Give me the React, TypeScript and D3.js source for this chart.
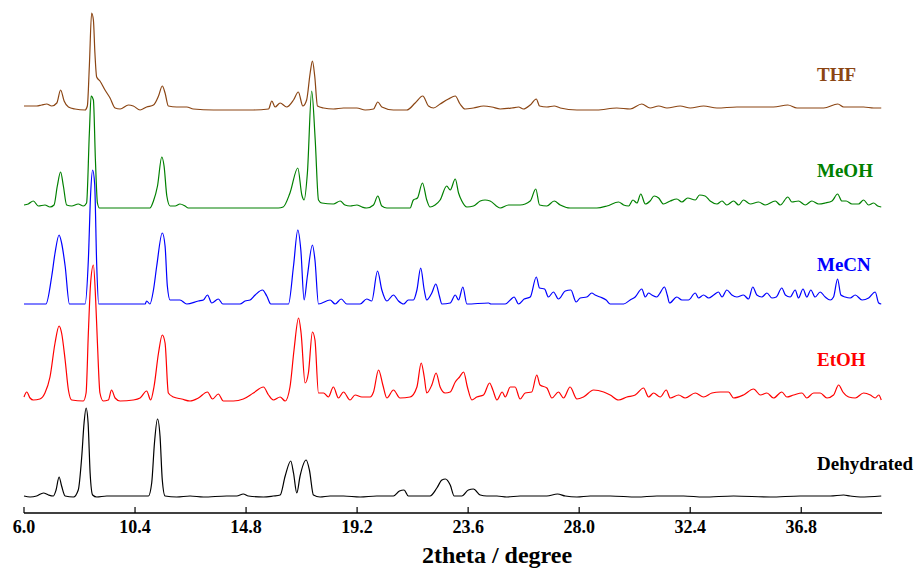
import React from "react";
import * as d3 from "d3";

type Pt = [number, number];

// 2theta (degree) vs intensity (a.u.) for each sample
const thf: Pt[] = [[6.00,3],[6.24,3],[6.50,3],[6.70,4],[6.90,5],[7.10,3],[7.30,6],[7.45,19],[7.59,8],[7.76,2],[8.02,0],[8.42,-1],[8.51,3],[8.59,43],[8.68,96],[8.75,89],[8.81,56],[8.88,32],[9.01,28],[9.21,19],[9.41,11],[9.61,1],[9.81,0],[10.14,4],[10.33,3],[10.60,-1],[10.86,2],[11.13,4],[11.33,13],[11.48,23],[11.59,16],[11.72,3],[12.05,2],[12.45,2],[12.71,0],[13.51,-1],[15.09,-1],[15.69,0],[15.82,8],[15.95,2],[16.15,6],[16.41,2],[16.68,9],[16.87,17],[17.05,3],[17.20,9],[17.34,36],[17.43,48],[17.52,33],[17.63,3],[17.87,1],[18.26,0],[18.66,1],[19.19,1],[19.52,-1],[19.85,0],[20.02,7],[20.18,2],[20.64,-1],[21.17,-1],[21.50,6],[21.80,13],[22.03,3],[22.23,1],[22.49,5],[22.82,10],[23.09,13],[23.28,5],[23.48,0],[23.81,1],[24.21,3],[24.54,2],[24.87,0],[25.33,1],[25.60,2],[25.79,0],[26.06,4],[26.30,10],[26.43,3],[26.72,2],[27.01,3],[27.25,1],[27.91,-1],[28.70,-1],[29.49,1],[30.02,0],[30.48,5],[30.81,1],[31.15,3],[31.48,1],[32.00,3],[32.40,1],[32.93,3],[33.46,1],[34.25,2],[34.78,2],[35.70,2],[36.27,4],[36.63,1],[37.16,1],[37.69,1],[38.25,5],[38.48,2],[39.27,2],[39.67,1],[39.97,1]];

const meoh: Pt[] = [[6.00,3],[6.17,4],[6.37,7],[6.57,2],[6.83,3],[7.03,1],[7.19,3],[7.32,22],[7.45,36],[7.56,22],[7.69,3],[7.89,2],[8.15,4],[8.35,2],[8.48,5],[8.59,75],[8.66,112],[8.75,108],[8.83,48],[8.91,5],[8.99,0],[10.99,0],[11.13,7],[11.29,22],[11.46,51],[11.55,42],[11.66,12],[11.79,2],[11.99,2],[12.18,4],[12.38,2],[12.51,0],[16.08,0],[16.27,1],[16.54,15],[16.85,40],[17.01,13],[17.10,8],[17.23,35],[17.40,117],[17.54,68],[17.67,8],[17.80,5],[18.26,4],[18.53,7],[18.72,3],[18.92,2],[19.19,3],[19.39,1],[19.58,0],[19.85,3],[20.02,12],[20.18,2],[20.38,0],[21.30,0],[21.43,8],[21.59,10],[21.79,25],[21.96,8],[22.09,1],[22.29,3],[22.49,8],[22.75,22],[22.89,18],[23.09,29],[23.22,15],[23.35,7],[23.55,1],[23.81,2],[24.08,7],[24.27,8],[24.47,7],[24.87,0],[25.20,3],[25.66,3],[26.06,7],[26.28,19],[26.43,3],[26.72,2],[27.01,7],[27.25,3],[27.64,0],[28.70,0],[29.10,2],[29.56,6],[29.76,3],[29.96,2],[30.13,8],[30.29,5],[30.44,14],[30.62,4],[30.81,7],[30.97,12],[31.15,10],[31.34,4],[31.61,7],[31.87,9],[32.07,6],[32.30,10],[32.60,8],[32.77,13],[32.99,12],[33.19,7],[33.46,4],[33.66,7],[33.85,3],[34.12,7],[34.32,3],[34.51,8],[34.78,4],[35.11,6],[35.37,3],[35.77,7],[35.97,3],[36.27,11],[36.43,6],[36.69,7],[36.96,3],[37.22,7],[37.49,4],[37.75,5],[38.02,7],[38.24,14],[38.41,7],[38.58,7],[38.81,4],[39.07,4],[39.27,8],[39.47,3],[39.67,5],[39.83,2],[39.97,1]];

const mecn: Pt[] = [[6.00,0],[6.87,0],[7.10,28],[7.23,51],[7.39,69],[7.49,61],[7.63,38],[7.80,0],[8.42,0],[8.55,44],[8.64,110],[8.72,134],[8.80,120],[8.88,40],[8.96,0],[10.80,0],[10.86,3],[10.99,0],[11.13,14],[11.26,38],[11.48,71],[11.59,58],[11.68,18],[11.79,4],[12.18,4],[12.45,0],[12.91,3],[13.11,4],[13.27,9],[13.44,1],[13.70,5],[13.88,0],[14.56,0],[14.76,3],[14.96,4],[15.16,9],[15.45,14],[15.62,8],[15.78,0],[16.48,0],[16.68,38],[16.85,74],[16.97,54],[17.10,4],[17.23,28],[17.43,59],[17.53,44],[17.67,0],[18.13,4],[18.33,0],[18.57,5],[18.79,0],[19.32,0],[19.58,5],[19.78,3],[20.01,33],[20.18,14],[20.38,3],[20.64,9],[20.84,3],[21.04,0],[21.23,4],[21.43,4],[21.57,14],[21.72,36],[21.86,14],[21.96,4],[22.16,11],[22.32,20],[22.46,8],[22.56,0],[22.89,1],[23.09,9],[23.22,4],[23.39,17],[23.55,0],[24.41,1],[24.50,0],[25.07,0],[25.27,4],[25.42,7],[25.60,0],[25.82,5],[26.06,7],[26.30,27],[26.43,16],[26.63,15],[26.78,7],[26.98,12],[27.18,5],[27.45,13],[27.67,14],[27.88,2],[28.04,6],[28.30,7],[28.50,11],[28.63,9],[28.83,7],[29.07,4],[29.23,0],[29.76,0],[30.02,4],[30.22,7],[30.48,15],[30.62,7],[30.75,11],[30.88,9],[31.08,7],[31.18,10],[31.38,17],[31.49,9],[31.58,1],[31.87,7],[32.07,4],[32.33,4],[32.60,11],[32.73,6],[32.93,9],[33.13,6],[33.33,9],[33.52,12],[33.66,7],[33.85,14],[34.05,9],[34.25,7],[34.51,9],[34.71,5],[34.88,17],[35.04,9],[35.24,7],[35.44,11],[35.64,6],[35.81,7],[36.03,16],[36.17,9],[36.36,7],[36.56,14],[36.69,6],[36.87,15],[37.02,7],[37.18,14],[37.35,7],[37.55,12],[37.75,7],[37.95,4],[38.08,7],[38.24,25],[38.37,9],[38.54,7],[38.74,6],[38.94,9],[39.21,4],[39.47,6],[39.73,12],[39.87,1],[39.97,0]];

const etoh: Pt[] = [[6.00,4],[6.11,9],[6.24,3],[6.37,1],[6.63,2],[6.83,8],[7.03,24],[7.23,58],[7.39,75],[7.49,68],[7.63,41],[7.76,11],[7.89,1],[8.35,0],[8.46,8],[8.55,68],[8.64,118],[8.75,136],[8.84,101],[8.91,58],[9.01,8],[9.14,0],[9.34,1],[9.47,11],[9.61,3],[9.81,0],[10.33,1],[10.60,3],[10.86,10],[11.02,1],[11.15,14],[11.33,48],[11.48,66],[11.59,58],[11.72,8],[11.92,4],[12.25,2],[12.58,0],[12.91,3],[13.27,9],[13.47,2],[13.70,7],[13.90,0],[14.30,0],[14.69,2],[15.09,8],[15.49,14],[15.69,6],[15.88,1],[16.15,4],[16.35,0],[16.54,14],[16.70,51],[16.88,83],[16.98,68],[17.14,18],[17.27,28],[17.43,69],[17.53,61],[17.67,8],[17.87,8],[18.06,4],[18.26,14],[18.46,3],[18.66,9],[18.92,1],[19.12,6],[19.39,4],[19.72,4],[19.85,9],[20.05,31],[20.22,16],[20.38,3],[20.64,11],[20.90,3],[21.30,4],[21.57,14],[21.74,38],[21.86,24],[21.96,8],[22.16,16],[22.33,28],[22.49,14],[22.69,8],[22.89,9],[23.09,19],[23.26,24],[23.42,29],[23.57,14],[23.75,1],[23.94,4],[24.21,6],[24.45,18],[24.58,11],[24.74,1],[24.95,9],[25.07,4],[25.27,14],[25.46,14],[25.66,2],[25.86,8],[26.12,9],[26.32,26],[26.45,16],[26.72,13],[26.92,3],[27.18,9],[27.38,3],[27.64,14],[27.91,2],[28.17,4],[28.57,11],[28.97,9],[29.23,6],[29.56,1],[29.89,4],[30.22,6],[30.55,13],[30.75,4],[30.95,8],[31.21,4],[31.45,11],[31.61,3],[31.94,6],[32.20,3],[32.60,8],[32.93,4],[33.26,8],[33.59,9],[33.92,9],[34.12,3],[34.51,6],[34.91,12],[35.18,6],[35.44,8],[35.70,3],[36.03,9],[36.23,4],[36.50,6],[36.83,8],[37.02,3],[37.29,8],[37.55,8],[37.82,3],[38.08,6],[38.28,16],[38.45,9],[38.68,4],[38.94,3],[39.27,8],[39.54,6],[39.73,3],[39.87,6],[39.97,1]];

const dehydrated: Pt[] = [[6.00,1],[6.24,0],[6.50,1],[6.77,4],[6.97,2],[7.16,1],[7.27,7],[7.39,20],[7.49,11],[7.63,1],[7.96,0],[8.15,7],[8.29,41],[8.38,74],[8.46,89],[8.54,74],[8.62,24],[8.72,2],[8.88,0],[9.28,1],[9.67,1],[10.07,1],[10.47,1],[10.93,1],[11.06,14],[11.17,54],[11.29,78],[11.39,61],[11.48,17],[11.59,1],[12.05,0],[12.58,1],[13.11,0],[14.03,1],[14.43,1],[14.69,3],[14.89,1],[15.49,0],[15.88,1],[16.15,2],[16.35,21],[16.57,36],[16.68,24],[16.81,4],[16.94,21],[17.18,37],[17.31,27],[17.47,2],[17.73,0],[18.13,1],[18.66,1],[19.32,0],[19.98,1],[20.64,1],[20.88,6],[21.06,7],[21.23,1],[21.70,1],[22.09,1],[22.36,9],[22.56,17],[22.70,18],[22.89,12],[23.05,1],[23.35,1],[23.61,7],[23.81,8],[24.08,2],[24.34,1],[24.74,1],[25.13,0],[25.66,1],[26.06,1],[26.72,1],[27.14,3],[27.45,1],[27.91,0],[28.44,1],[29.23,1],[30.29,0],[31.08,1],[32.14,1],[32.93,0],[34.12,1],[35.57,0],[36.76,1],[37.95,1],[38.48,2],[38.74,1],[39.14,0],[39.97,1]];

const seriesNames = ["THF", "MeOH", "MeCN", "EtOH", "Dehydrated"];
const seriesData: Pt[][] = [thf, meoh, mecn, etoh, dehydrated];
// vertical stacking offsets (a.u.)
const offsets = [404, 305, 209, 112, 16];
const xTicks = [6.0, 10.4, 14.8, 19.2, 23.6, 28.0, 32.4, 36.8];

const colors = ["#8B4513", "#008000", "#0000FF", "#FF0000", "#000000"];
const labelLift = [28, 31, 33, 35, 27];

const W = 920;
const H = 572;

export default function App() {
  const x = d3.scaleLinear().domain([6, 40]).range([24, 882]);
  const y = d3.scaleLinear().domain([0, 510]).range([513, 3]);
  const axisY = y(0);
  const font = "'Liberation Serif', 'Times New Roman', serif";

  return (
    <svg width={W} height={H} style={{ position: "absolute", left: 0, top: 0, background: "#fff" }}>
      {seriesData.map((data, i) => {
        const line = d3
          .line<Pt>()
          .curve(d3.curveMonotoneX)
          .x((d) => x(d[0]))
          .y((d) => y(d[1] + offsets[i]));
        return (
          <path key={seriesNames[i]} d={line(data) || ""} fill="none" stroke={colors[i]} strokeWidth={1.2} strokeLinejoin="round" />
        );
      })}
      {seriesNames.map((n, i) => (
        <text key={n} x={817} y={y(offsets[i] + labelLift[i])} fill={colors[i]} fontFamily={font} fontWeight="bold" fontSize={19}>
          {n}
        </text>
      ))}
      <line x1={x(6)} x2={x(40)} y1={axisY} y2={axisY} stroke="#000" strokeWidth={1.5} />
      {xTicks.map((t) => (
        <g key={t}>
          <line x1={x(t)} x2={x(t)} y1={axisY} y2={axisY - 6} stroke="#000" strokeWidth={1.2} />
          <text x={x(t)} y={533} textAnchor="middle" fontFamily={font} fontWeight="bold" fontSize={18} fill="#000">
            {d3.format(".1f")(t)}
          </text>
        </g>
      ))}
      <text x={497} y={563} textAnchor="middle" fontFamily={font} fontWeight="bold" fontSize={24} fill="#000">
        2theta / degree
      </text>
    </svg>
  );
}
